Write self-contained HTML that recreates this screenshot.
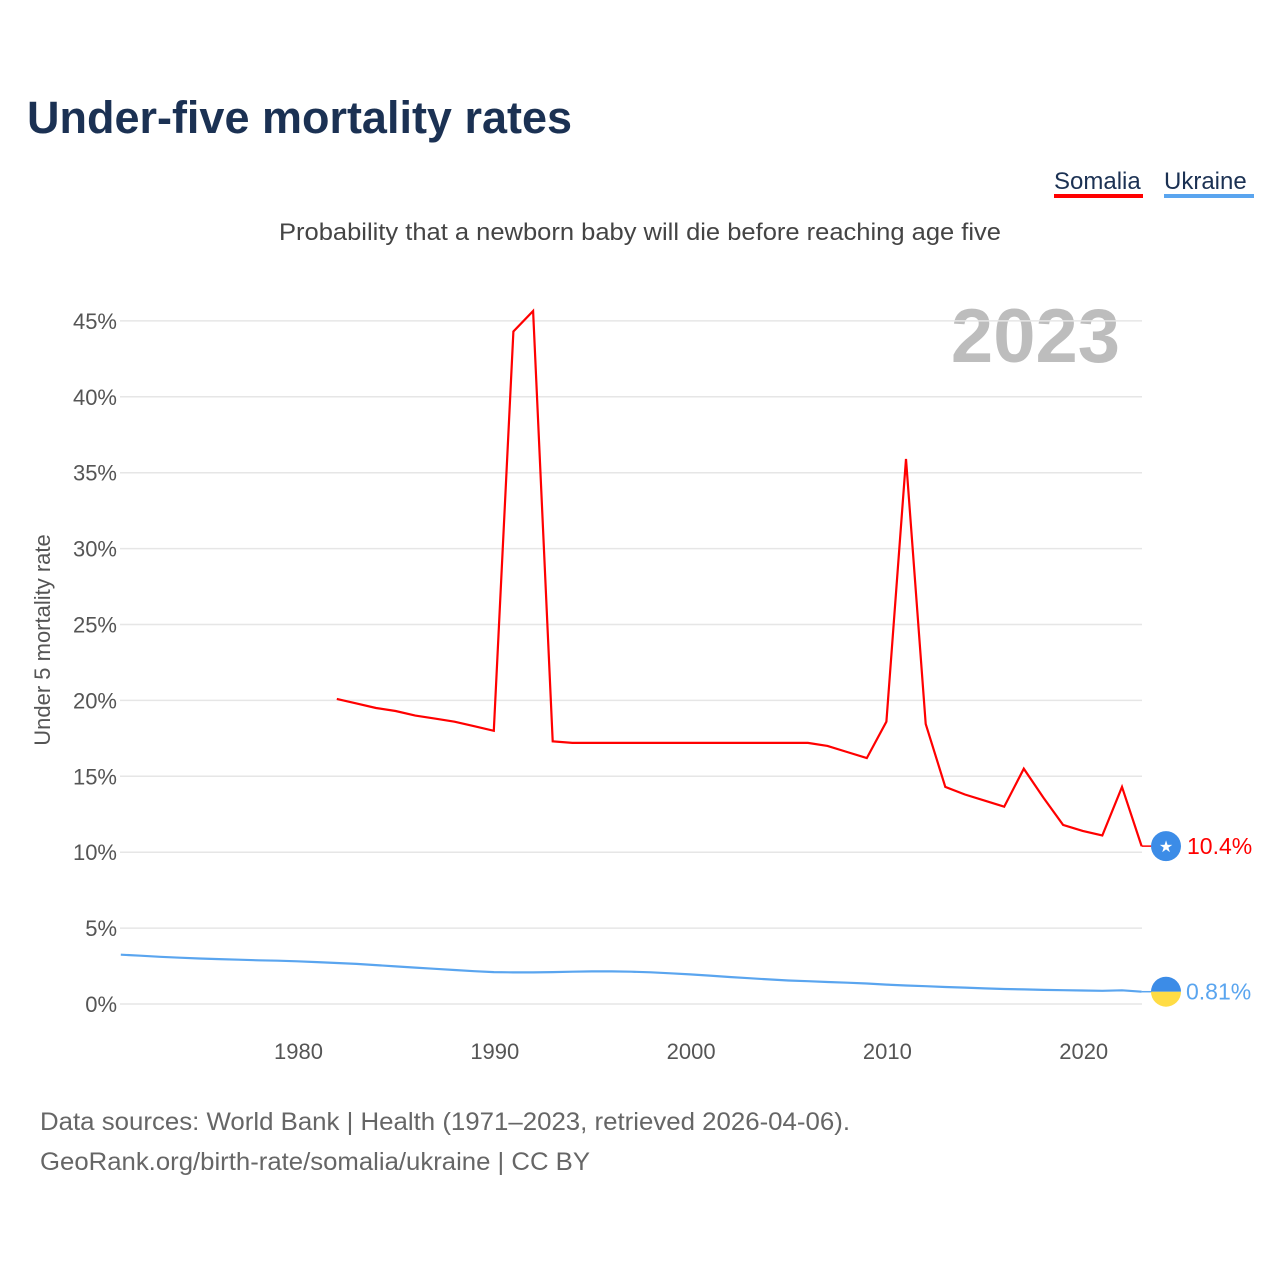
<!DOCTYPE html>
<html><head><meta charset="utf-8">
<style>
body{margin:0;background:#fff;font-family:"Liberation Sans",sans-serif;}
#wrap{position:relative;width:1280px;height:1280px;overflow:hidden;}
</style></head>
<body>
<div id="wrap">
<svg id="chart" width="1280" height="1280" xmlns="http://www.w3.org/2000/svg">
<text x="27" y="133" font-size="45" font-weight="bold" fill="#1b3153" textLength="545" lengthAdjust="spacingAndGlyphs">Under-five mortality rates</text>
<g>
<text x="1054" y="189" font-size="24" fill="#1b3153">Somalia</text>
<rect x="1054" y="194" width="89" height="4" fill="#ff0000"/>
</g>
<g>
<text x="1164" y="189" font-size="24" fill="#1b3153">Ukraine</text>
<rect x="1164" y="194" width="90" height="4" fill="#5aa5ef"/>
</g>
<text x="640" y="240" font-size="24" fill="#444" text-anchor="middle" textLength="722" lengthAdjust="spacingAndGlyphs">Probability that a newborn baby will die before reaching age five</text>
<text x="1120" y="362" font-size="76" font-weight="bold" fill="#bdbdbd" text-anchor="end">2023</text>
<text transform="translate(50,640) rotate(-90)" font-size="22" fill="#555" text-anchor="middle">Under 5 mortality rate</text>
<g id="grid"></g><g id="yticks"></g><g id="xticks"></g><g id="lines"></g>
<text x="40" y="1130" font-size="25" fill="#666" textLength="810" lengthAdjust="spacingAndGlyphs">Data sources: World Bank | Health (1971–2023, retrieved 2026-04-06).</text>
<text x="40" y="1170" font-size="25" fill="#666" textLength="550" lengthAdjust="spacingAndGlyphs">GeoRank.org/birth-rate/somalia/ukraine | CC BY</text>
</svg>
</div>
<script>
const yTicks=[0,5,10,15,20,25,30,35,40,45];
const xTicks=[1980,1990,2000,2010,2020];
const somaliaYears=[1982,1983,1984,1985,1986,1987,1988,1989,1990,1991,1992,1993,1994,1995,1996,1997,1998,1999,2000,2001,2002,2003,2004,2005,2006,2007,2008,2009,2010,2011,2012,2013,2014,2015,2016,2017,2018,2019,2020,2021,2022,2023];
const somaliaValues=[20.1,19.8,19.5,19.3,19.0,18.8,18.6,18.3,18.0,44.3,45.65,17.3,17.2,17.2,17.2,17.2,17.2,17.2,17.2,17.2,17.2,17.2,17.2,17.2,17.2,17.0,16.6,16.2,18.6,35.9,18.45,14.3,13.8,13.4,13.0,15.5,13.6,11.8,11.4,11.1,14.3,10.4];
const ukraineYears=[1971,1972,1973,1974,1975,1976,1977,1978,1979,1980,1981,1982,1983,1984,1985,1986,1987,1988,1989,1990,1991,1992,1993,1994,1995,1996,1997,1998,1999,2000,2001,2002,2003,2004,2005,2006,2007,2008,2009,2010,2011,2012,2013,2014,2015,2016,2017,2018,2019,2020,2021,2022,2023];
const ukraineValues=[3.25,3.18,3.11,3.05,3.0,2.96,2.92,2.88,2.85,2.81,2.76,2.7,2.64,2.56,2.48,2.4,2.32,2.24,2.16,2.1,2.08,2.08,2.1,2.13,2.15,2.15,2.13,2.09,2.02,1.95,1.87,1.78,1.7,1.62,1.55,1.5,1.45,1.4,1.35,1.28,1.22,1.17,1.12,1.08,1.03,0.99,0.96,0.93,0.91,0.89,0.87,0.9,0.81];
const NS="http://www.w3.org/2000/svg";
function X(yr){return 297.5+(yr-1980)*19.63;}
function Y(v){return 1004-v*15.18;}
function mk(tag,attrs,parent){const e=document.createElementNS(NS,tag);for(const k in attrs)e.setAttribute(k,attrs[k]);parent.appendChild(e);return e;}
const grid=document.getElementById('grid'),yt=document.getElementById('yticks'),xt=document.getElementById('xticks'),ln=document.getElementById('lines');
yTicks.forEach(v=>{
 const l=mk('line',{x1:120,x2:1142,y1:Y(v),y2:Y(v),stroke:'#e6e6e6','stroke-width':1.5},grid);
 
 
 const t=mk('text',{x:117,y:Y(v)+8,'font-size':22,fill:'#555','text-anchor':'end'},yt);
 t.textContent=v+'%';
 
 
});
xTicks.forEach(v=>{
 const t=mk('text',{x:X(v)+1,y:1059,'font-size':22,fill:'#555','text-anchor':'middle'},xt);
 t.textContent=v;
 
 
});
function pts(ys,vs){return ys.map((y,i)=>X(y).toFixed(1)+','+Y(vs[i]).toFixed(1)).join(' ');}
const ul=mk('polyline',{points:pts(ukraineYears,ukraineValues),fill:'none',stroke:'#5aa5ef','stroke-width':2.2,'stroke-linejoin':'round'},ln);


const sl=mk('polyline',{points:pts(somaliaYears,somaliaValues),fill:'none',stroke:'#ff0000','stroke-width':2.2,'stroke-linejoin':'miter'},ln);


const sv=somaliaValues[somaliaValues.length-1],uv=ukraineValues[ukraineValues.length-1];
const sx=X(2023),sy=Y(sv),uy=Y(uv);
mk('line',{x1:sx,x2:1152,y1:sy,y2:sy,stroke:'#ff0000','stroke-width':1.5},ln);
mk('line',{x1:sx,x2:1152,y1:uy,y2:uy,stroke:'#5aa5ef','stroke-width':1.5},ln);
const sf=mk('g',{},ln);


mk('circle',{cx:1166,cy:sy,r:15,fill:'#3c8ce7'},sf);
const st=mk('text',{x:1166,y:sy+6,'font-size':16,fill:'#fff','text-anchor':'middle'},sf);st.textContent='★';
const sl2=mk('text',{x:1187,y:sy+8,'font-size':23,fill:'#ff0000'},ln);
sl2.textContent=sv+'%';


const uf=mk('g',{},ln);


mk('path',{d:`M1151,${uy} a15,15 0 0 1 30,0 z`,fill:'#3c8ce7'},uf);
mk('path',{d:`M1151,${uy} a15,15 0 0 0 30,0 z`,fill:'#ffdc45'},uf);
const ul2=mk('text',{x:1186,y:uy+8,'font-size':23,fill:'#5aa5ef'},ln);
ul2.textContent=uv+'%';


</script>
</body></html>
